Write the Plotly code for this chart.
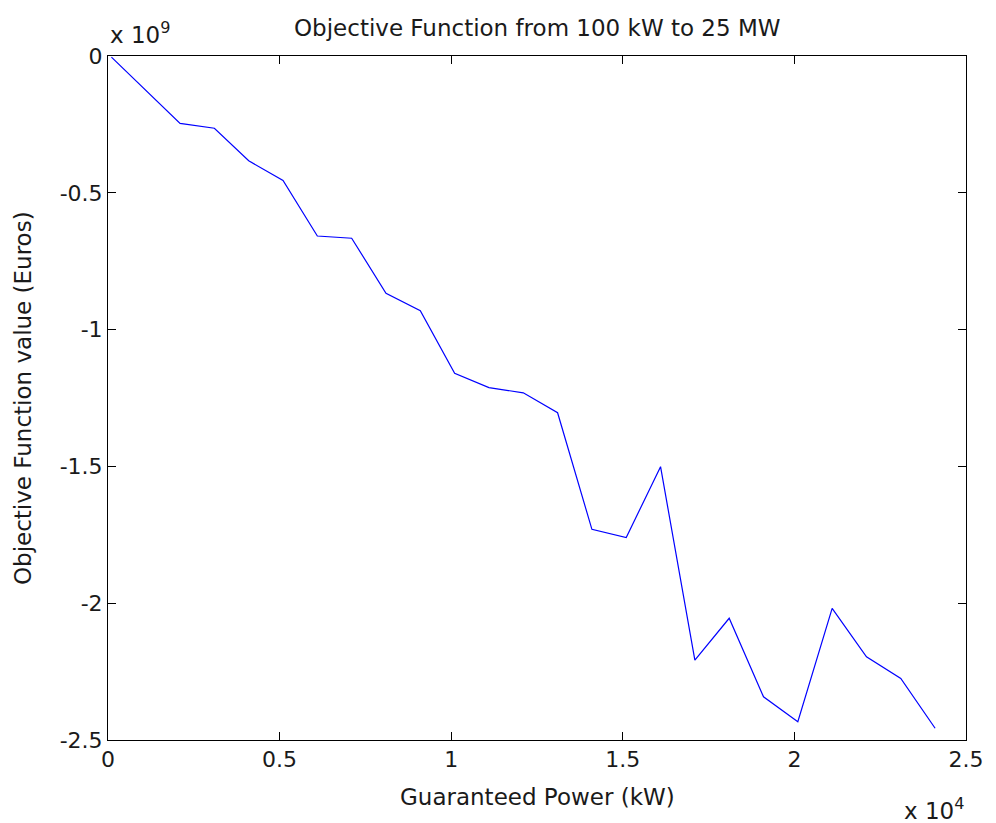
import plotly.graph_objects as go

# Data (kW, Euros)
guaranteed_power_kw = [100, 1100, 2100, 3100, 4100, 5100, 6100, 7100, 8100, 9100,
                       10100, 11100, 12100, 13100, 14100, 15100, 16100, 17100, 18100,
                       19100, 20100, 21100, 22100, 23100, 24100]
objective_value_eur = [-0.004e9, -0.125e9, -0.246e9, -0.264e9, -0.383e9, -0.455e9,
                       -0.658e9, -0.666e9, -0.867e9, -0.931e9, -1.160e9, -1.212e9,
                       -1.231e9, -1.304e9, -1.730e9, -1.760e9, -1.501e9, -2.208e9,
                       -2.055e9, -2.342e9, -2.433e9, -2.019e9, -2.196e9, -2.275e9,
                       -2.457e9]

x_tickvals = [0, 5000, 10000, 15000, 20000, 25000]
x_ticktext = ["0", "0.5", "1", "1.5", "2", "2.5"]
y_tickvals = [0, -0.5e9, -1e9, -1.5e9, -2e9, -2.5e9]
y_ticktext = ["0", "-0.5", "-1", "-1.5", "-2", "-2.5"]

FONT = "DejaVu Sans"
TXT = "#1a1a1a"

fig = go.Figure()
fig.add_trace(go.Scatter(
    x=guaranteed_power_kw, y=objective_value_eur, mode="lines",
    line=dict(color="#0000ff", width=1.2), showlegend=False, hoverinfo="x+y"))

axis_common = dict(showline=True, linecolor="black", linewidth=1, mirror="ticks",
                   ticks="inside", ticklen=8, tickcolor="black", tickwidth=1,
                   showgrid=False, zeroline=False,
                   tickfont=dict(family=FONT, size=22, color=TXT))

fig.update_xaxes(range=[0, 25000], tickmode="array", tickvals=x_tickvals,
                 ticktext=x_ticktext, **axis_common)
fig.update_yaxes(range=[-2.5e9, 0], tickmode="array", tickvals=y_tickvals,
                 ticktext=y_ticktext, **axis_common)

ann_font = dict(family=FONT, size=23, color=TXT)
fig.update_layout(
    width=996, height=823, autosize=False,
    margin=dict(l=108, r=19, t=56, b=83),
    paper_bgcolor="white", plot_bgcolor="white",
    annotations=[
        dict(text="Objective Function from 100 kW to 25 MW", xref="paper", yref="paper",
             x=0.5, y=1.041, xanchor="center", yanchor="middle", showarrow=False,
             font=ann_font),
        dict(text="Guaranteed Power (kW)", xref="paper", yref="paper",
             x=0.5, y=-0.083, xanchor="center", yanchor="middle", showarrow=False,
             font=ann_font),
        dict(text="Objective Function value (Euros)", xref="paper", yref="paper",
             x=-0.099, y=0.5, xanchor="center", yanchor="middle", textangle=-90,
             showarrow=False, font=ann_font),
        dict(text="x 10<sup>4</sup>", xref="paper", yref="paper",
             x=1.0, y=-0.101, xanchor="right", yanchor="middle", showarrow=False,
             font=ann_font),
        dict(text="x 10<sup>9</sup>", xref="paper", yref="paper",
             x=0.0, y=1.033, xanchor="left", yanchor="middle", showarrow=False,
             font=ann_font),
    ],
)

fig.write_html(
    "out.html",
    config={"responsive": False, "displayModeBar": False},
    default_width="996px", default_height="823px",
    post_script="document.body.style.margin='0';document.body.style.overflow='hidden';",
)
